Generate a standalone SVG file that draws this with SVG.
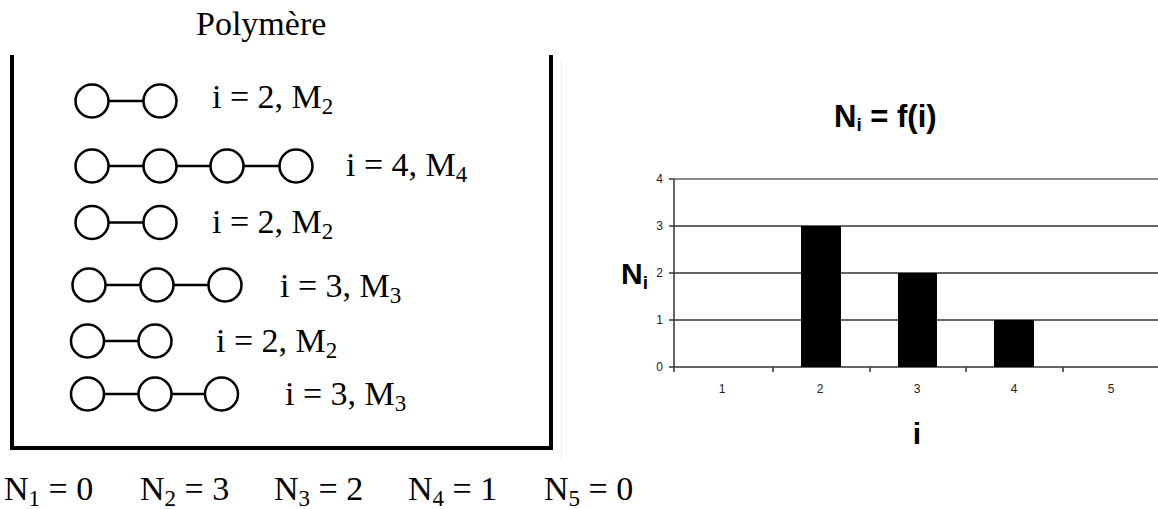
<svg xmlns="http://www.w3.org/2000/svg" width="1158" height="509" viewBox="0 0 1158 509">
<style>
.ser{font-family:"Liberation Serif","Times New Roman",serif;font-size:34px;fill:#000}
.sub{font-size:23px}
.atom{fill:#fff;stroke:#000;stroke-width:2.5}
.bond{stroke:#000;stroke-width:2.5}
.bold{font-family:"Liberation Sans",Arial,sans-serif;font-weight:bold;fill:#000}
.tick{font-family:"Liberation Sans",Arial,sans-serif;font-size:12px;fill:#222}
.grid{stroke:#333;stroke-width:1.5}
.bar{fill:#000}
</style>
<rect width="1158" height="509" fill="#fff"/>
<text class="ser" x="196" y="35">Polymère</text>
<path d="M12,55 V448 H551 V55" fill="none" stroke="#000" stroke-width="4"/>
<g id="connectors">
<line class="bond" x1="108.5" y1="101" x2="143.5" y2="101"/>
<line class="bond" x1="108.5" y1="166" x2="143.5" y2="166"/>
<line class="bond" x1="176.5" y1="166" x2="210.5" y2="166"/>
<line class="bond" x1="243.5" y1="166" x2="279.5" y2="166"/>
<line class="bond" x1="108.5" y1="222.5" x2="143.5" y2="222.5"/>
<line class="bond" x1="105.5" y1="285" x2="140.5" y2="285"/>
<line class="bond" x1="173.5" y1="285" x2="208.5" y2="285"/>
<line class="bond" x1="104" y1="341" x2="138.5" y2="341"/>
<line class="bond" x1="104" y1="394" x2="138.5" y2="394"/>
<line class="bond" x1="171.5" y1="394" x2="205" y2="394"/>
</g>
<g id="chain1">
<circle class="atom" cx="92" cy="101" r="16.5"/><circle class="atom" cx="160" cy="101" r="16.5"/>
<text class="ser" x="212" y="108">i = 2, M<tspan class="sub" dy="6">2</tspan></text>
</g>
<g id="chain2">
<circle class="atom" cx="92" cy="166" r="16.5"/><circle class="atom" cx="160" cy="166" r="16.5"/><circle class="atom" cx="227" cy="166" r="16.5"/><circle class="atom" cx="296" cy="166" r="16.5"/>
<text class="ser" x="346" y="176">i = 4, M<tspan class="sub" dy="6">4</tspan></text>
</g>
<g id="chain3">
<circle class="atom" cx="92" cy="222.5" r="16.5"/><circle class="atom" cx="160" cy="222.5" r="16.5"/>
<text class="ser" x="212" y="233">i = 2, M<tspan class="sub" dy="6">2</tspan></text>
</g>
<g id="chain4">
<circle class="atom" cx="89" cy="285" r="16.5"/><circle class="atom" cx="157" cy="285" r="16.5"/><circle class="atom" cx="225" cy="285" r="16.5"/>
<text class="ser" x="280" y="297">i = 3, M<tspan class="sub" dy="6">3</tspan></text>
</g>
<g id="chain5">
<circle class="atom" cx="87.5" cy="341" r="16.5"/><circle class="atom" cx="155" cy="341" r="16.5"/>
<text class="ser" x="216" y="352">i = 2, M<tspan class="sub" dy="6">2</tspan></text>
</g>
<g id="chain6">
<circle class="atom" cx="87.5" cy="394" r="16.5"/><circle class="atom" cx="155" cy="394" r="16.5"/><circle class="atom" cx="221.5" cy="394" r="16.5"/>
<text class="ser" x="285" y="405">i = 3, M<tspan class="sub" dy="6">3</tspan></text>
</g>
<g id="counts">
<text class="ser" x="4" y="500">N<tspan class="sub" dy="6">1</tspan><tspan dy="-6"> = 0</tspan></text>
<text class="ser" x="140" y="500">N<tspan class="sub" dy="6">2</tspan><tspan dy="-6"> = 3</tspan></text>
<text class="ser" x="274" y="500">N<tspan class="sub" dy="6">3</tspan><tspan dy="-6"> = 2</tspan></text>
<text class="ser" x="408" y="500">N<tspan class="sub" dy="6">4</tspan><tspan dy="-6"> = 1</tspan></text>
<text class="ser" x="544" y="500">N<tspan class="sub" dy="6">5</tspan><tspan dy="-6"> = 0</tspan></text>
</g>
<g id="chart">
<line x1="561.5" y1="60" x2="561.5" y2="460" stroke="#eeeeee" stroke-width="1"/>
<text class="bold" x="834" y="127" font-size="31">N<tspan font-size="19" dy="4">i</tspan><tspan dy="-4"> = f(i)</tspan></text>
<line x1="674" y1="179" x2="1158" y2="179" stroke="#666" stroke-width="1.5"/>
<line class="grid" x1="669" y1="226" x2="1158" y2="226"/>
<line class="grid" x1="669" y1="273" x2="1158" y2="273"/>
<line class="grid" x1="669" y1="320" x2="1158" y2="320"/>
<line class="grid" x1="669" y1="367" x2="1158" y2="367"/>
<line class="grid" x1="669" y1="179" x2="674" y2="179"/>
<line class="grid" x1="674" y1="179" x2="674" y2="372"/>
<line class="grid" x1="773" y1="367" x2="773" y2="372"/>
<line class="grid" x1="870" y1="367" x2="870" y2="372"/>
<line class="grid" x1="966" y1="367" x2="966" y2="372"/>
<line class="grid" x1="1063" y1="367" x2="1063" y2="372"/>
<rect class="bar" x="801" y="226" width="40" height="141"/>
<rect class="bar" x="898" y="273" width="39" height="94"/>
<rect class="bar" x="994" y="320" width="40" height="47"/>
<g text-anchor="end">
<text class="tick" x="663" y="183">4</text>
<text class="tick" x="663" y="230">3</text>
<text class="tick" x="663" y="277">2</text>
<text class="tick" x="663" y="324">1</text>
<text class="tick" x="663" y="371">0</text>
</g>
<g text-anchor="middle">
<text class="tick" x="722" y="393">1</text>
<text class="tick" x="820" y="393">2</text>
<text class="tick" x="917" y="393">3</text>
<text class="tick" x="1014" y="393">4</text>
<text class="tick" x="1111" y="393">5</text>
</g>
<text class="bold" x="621" y="284" font-size="30">N<tspan font-size="19" dy="5">i</tspan></text>
<text class="bold" x="917" y="444" font-size="30" text-anchor="middle">i</text>
</g>
</svg>
